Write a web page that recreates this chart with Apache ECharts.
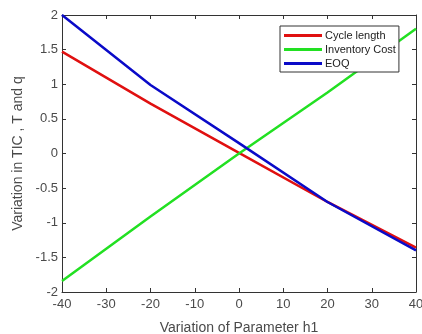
<!DOCTYPE html>
<html>
<head>
<meta charset="utf-8">
<script src="https://cdn.jsdelivr.net/npm/echarts@6/dist/echarts.min.js"></script>
<style>
  html, body { margin: 0; padding: 0; background: #fff; }
  #main { width: 422px; height: 334px; }
</style>
</head>
<body>
<div id="main"></div>
<script>
// values
var h1 = [-40, -20, 0, 20, 40];
var cycleLength = [1.47, 0.72, 0.01, -0.70, -1.36];
var inventoryCost = [-1.84, -0.91, 0.0, 0.88, 1.80];
var eoq = [2.0, 0.99, 0.15, -0.70, -1.40];

function pairs(ys) {
  return h1.map(function (x, i) { return [x, ys[i]]; });
}

var chart = echarts.init(document.getElementById("main"));
var txt = "#4a4a4a";
var font = "Liberation Sans, Arial, sans-serif";

chart.setOption({
  animation: false,
  textStyle: { fontFamily: font },
  grid: { left: 62, right: 6, top: 15, bottom: 42, outerBoundsMode: "none" },
  legend: {
    orient: "vertical",
    left: 280,
    top: 26,
    icon: "rect",
    itemWidth: 38,
    itemHeight: 3,
    itemGap: 3,
    padding: [4, 3, 3, 4],
    borderColor: "#333",
    borderWidth: 1,
    backgroundColor: "#fff",
    textStyle: { fontSize: 11, color: "#222", fontFamily: font, padding: [0, 0, 0, -2] },
    data: ["Cycle length", "Inventory Cost", "EOQ"]
  },
  xAxis: [
    {
      type: "value",
      min: -40, max: 40, interval: 10,
      name: "Variation of Parameter h1",
      nameLocation: "middle",
      nameGap: 29,
      nameTextStyle: { fontSize: 14, color: txt },
      axisLine: { onZero: false, lineStyle: { color: "#333" } },
      axisTick: { inside: true, length: 4, lineStyle: { color: "#333" } },
      axisLabel: { fontSize: 13, color: txt, margin: 6 },
      splitLine: { show: false }
    },
    {
      type: "value", position: "top",
      min: -40, max: 40, interval: 10,
      axisLine: { show: true, onZero: false, lineStyle: { color: "#333" } },
      axisTick: { inside: true, length: 4, lineStyle: { color: "#333" } },
      axisLabel: { show: false },
      splitLine: { show: false }
    }
  ],
  yAxis: [
    {
      type: "value",
      min: -2, max: 2, interval: 0.5,
      name: "Variation in TIC , T and q",
      nameLocation: "middle",
      nameGap: 34,
      nameTextStyle: { fontSize: 14, color: txt },
      axisLine: { show: true, onZero: false, lineStyle: { color: "#333" } },
      axisTick: { show: true, inside: true, length: 4, lineStyle: { color: "#333" } },
      axisLabel: { fontSize: 13, color: txt, margin: 4 },
      splitLine: { show: false }
    },
    {
      type: "value", position: "right",
      min: -2, max: 2, interval: 0.5,
      axisLine: { show: true, onZero: false, lineStyle: { color: "#333" } },
      axisTick: { show: true, inside: true, length: 4, lineStyle: { color: "#333" } },
      axisLabel: { show: false },
      splitLine: { show: false }
    }
  ],
  series: [
    {
      name: "Cycle length", type: "line", symbol: "none",
      color: "#e01010",
      lineStyle: { width: 2.5, color: "#e01010" },
      data: pairs(cycleLength)
    },
    {
      name: "Inventory Cost", type: "line", symbol: "none",
      color: "#22e022",
      lineStyle: { width: 2.5, color: "#22e022" },
      data: pairs(inventoryCost)
    },
    {
      name: "EOQ", type: "line", symbol: "none",
      color: "#0a0ac8",
      lineStyle: { width: 2.5, color: "#0a0ac8" },
      data: pairs(eoq)
    }
  ]
});
</script>
</body>
</html>
